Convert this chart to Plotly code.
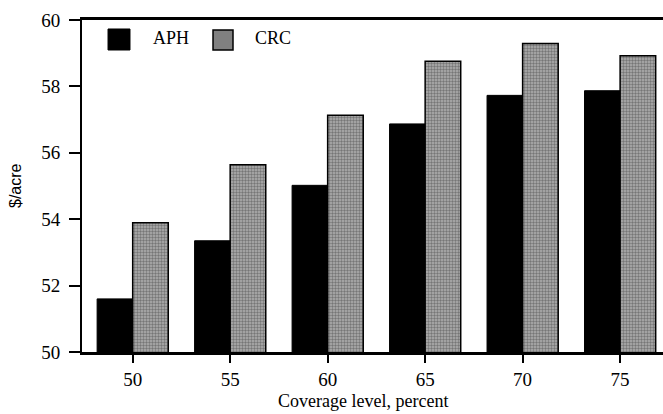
import plotly.graph_objects as go

categories = ["50", "55", "60", "65", "70", "75"]
aph = [51.60, 53.35, 55.02, 56.87, 57.73, 57.87]
crc = [53.89, 55.64, 57.13, 58.76, 59.29, 58.92]
y_ticks = [50, 52, 54, 56, 58, 60]

serif = "Liberation Serif"

fig = go.Figure()
fig.add_trace(go.Bar(
    x=categories, y=aph, name="APH",
    marker=dict(color="#000000", line=dict(color="#000000", width=1)),
    showlegend=False,
))
fig.add_trace(go.Bar(
    x=categories, y=crc, name="CRC",
    marker=dict(
        color="#a4a4a4",
        line=dict(color="#000000", width=1.5),
        pattern=dict(shape=".", fgcolor="#3c3c3c", bgcolor="#b0b0b0", size=3, solidity=0.5),
    ),
    showlegend=False,
))

# legend (drawn manually to match the large swatches)
fig.add_shape(type="rect", xref="paper", yref="paper",
              x0=0.0448, x1=0.0826, y0=0.9096, y1=0.9729,
              fillcolor="#000000", line=dict(color="#000000", width=1))
fig.add_shape(type="rect", xref="paper", yref="paper",
              x0=0.2255, x1=0.2599, y0=0.9096, y1=0.9699,
              fillcolor="#808080", line=dict(color="#000000", width=1.5))
fig.add_annotation(text="APH", xref="paper", yref="paper", x=0.1188, y=0.9458,
                   xanchor="left", yanchor="middle", showarrow=False,
                   font=dict(family=serif, size=18, color="#000"))
fig.add_annotation(text="CRC", xref="paper", yref="paper", x=0.2943, y=0.9458,
                   xanchor="left", yanchor="middle", showarrow=False,
                   font=dict(family=serif, size=18, color="#000"))

# axis titles
fig.add_annotation(text="Coverage level, percent", xref="paper", yref="paper",
                   x=0.4836, y=-0.148, xanchor="center", yanchor="middle", showarrow=False,
                   font=dict(family=serif, size=18, color="#000"))
fig.add_annotation(text="$/acre", xref="paper", yref="paper",
                   x=-0.1153, y=0.50, xanchor="center", yanchor="middle", showarrow=False,
                   textangle=-90,
                   font=dict(family="Liberation Sans", size=16, color="#000"))

fig.update_layout(
    width=663, height=414,
    margin=dict(l=82, r=0, t=20, b=62),
    paper_bgcolor="white", plot_bgcolor="white",
    barmode="group", bargap=0.27, bargroupgap=0,
    font=dict(family=serif, size=18, color="#000"),
    xaxis=dict(
        type="category", range=[-0.52, 5.44],
        showline=True, linecolor="#000", linewidth=2.5, mirror=True,
        ticks="outside", ticklen=8, tickwidth=2, tickcolor="#000",
        showgrid=False, zeroline=False,
        tickfont=dict(family=serif, size=19, color="#000"),
    ),
    yaxis=dict(
        range=[50, 60], tickvals=y_ticks,
        showline=True, linecolor="#000", linewidth=2,
        ticks="outside", ticklen=11, tickwidth=2, tickcolor="#000",
        ticklabelstandoff=5,
        showgrid=False, zeroline=False,
        tickfont=dict(family=serif, size=19, color="#000"),
    ),
)

fig.write_html("out.html")
